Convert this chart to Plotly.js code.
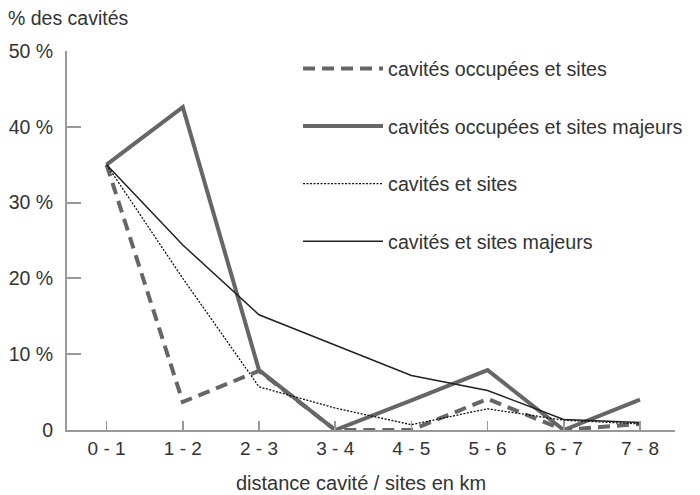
<!DOCTYPE html>
<html>
<head>
<meta charset="utf-8">
<script src="https://cdn.plot.ly/plotly-3.0.1.min.js"></script>
<style>html,body{margin:0;padding:0;background:#fff;}#chart{width:700px;height:495px;}</style>
</head>
<body>
<div id="chart"></div>
<script>
const categories = ["0 - 1", "1 - 2", "2 - 3", "3 - 4", "4 - 5", "5 - 6", "6 - 7", "7 - 8"];
const occupeesSites = [35, 3.7, 7.8, 0, 0, 4.1, 0, 0.8];
const occupeesMajeurs = [35, 42.6, 7.9, 0, 3.9, 7.9, 0, 4.0];
const cavitesSites = [35, 20, 5.7, 2.9, 0.7, 2.8, 1.3, 0.8];
const cavitesMajeurs = [35, 24.4, 15.2, 11.2, 7.2, 5.2, 1.4, 1.0];
const seriesNames = ["cavités occupées et sites", "cavités occupées et sites majeurs", "cavités et sites", "cavités et sites majeurs"];
const yTickVals = [0, 10, 20, 30, 40, 50];
const yTickText = ["0", "10 %", "20 %", "30 %", "40 %", "50 %"];

const FONT = "Liberation Sans, Arial, Helvetica, sans-serif";
const traces = [
  {x: categories, y: occupeesSites, name: seriesNames[0], mode: "lines", legendgroup: "a",
   line: {color: "#666", width: 4, dash: "12px,7px"}},
  {x: categories, y: occupeesMajeurs, name: seriesNames[1], mode: "lines", legendgroup: "b",
   line: {color: "#666", width: 4}},
  {x: categories, y: cavitesSites, name: seriesNames[2], mode: "lines", legendgroup: "c",
   line: {color: "#111", width: 1.3, dash: "2px,1.5px"}},
  {x: categories, y: cavitesMajeurs, name: seriesNames[3], mode: "lines", legendgroup: "d",
   line: {color: "#222", width: 1.5}}
];
const layout = {
  width: 700, height: 495,
  margin: {l: 67, r: 23, t: 51, b: 65},
  paper_bgcolor: "#fff", plot_bgcolor: "#fff",
  font: {family: FONT, size: 19, color: "#333"},
  showlegend: true,
  legend: {x: 0.38, y: 1.005, xanchor: "left", yanchor: "top", tracegroupgap: 29,
           itemwidth: 80, font: {family: FONT, size: 19.7, color: "#333"}, bgcolor: "rgba(0,0,0,0)"},
  xaxis: {type: "category", range: [-0.52, 7.46], showgrid: false, zeroline: false,
          showline: true, linecolor: "#999", linewidth: 2, ticks: "inside", ticklen: 9,
          tickcolor: "#999", tickwidth: 1.5, ticklabelstandoff: 0,
          tickfont: {family: FONT, size: 19, color: "#333"}},
  yaxis: {range: [0, 50], showgrid: false, zeroline: false, showline: true, linecolor: "#999",
          linewidth: 2, ticks: "inside", ticklen: 14, tickcolor: "#999", tickwidth: 2,
          ticklabelstandoff: 8,
          tickvals: yTickVals, ticktext: yTickText, tickfont: {family: FONT, size: 19.5, color: "#333"}},
  annotations: [
    {text: "% des cavités", xref: "paper", yref: "paper", x: -0.1, y: 1.087,
     xanchor: "left", yanchor: "middle", showarrow: false,
     font: {family: FONT, size: 19.5, color: "#333"}},
    {text: "distance cavité / sites en km", xref: "paper", yref: "paper", x: 0.4836, y: -0.139,
     xanchor: "center", yanchor: "middle", showarrow: false,
     font: {family: FONT, size: 20, color: "#333"}}
  ]
};
Plotly.newPlot("chart", traces, layout, {staticPlot: true});
</script>
</body>
</html>
